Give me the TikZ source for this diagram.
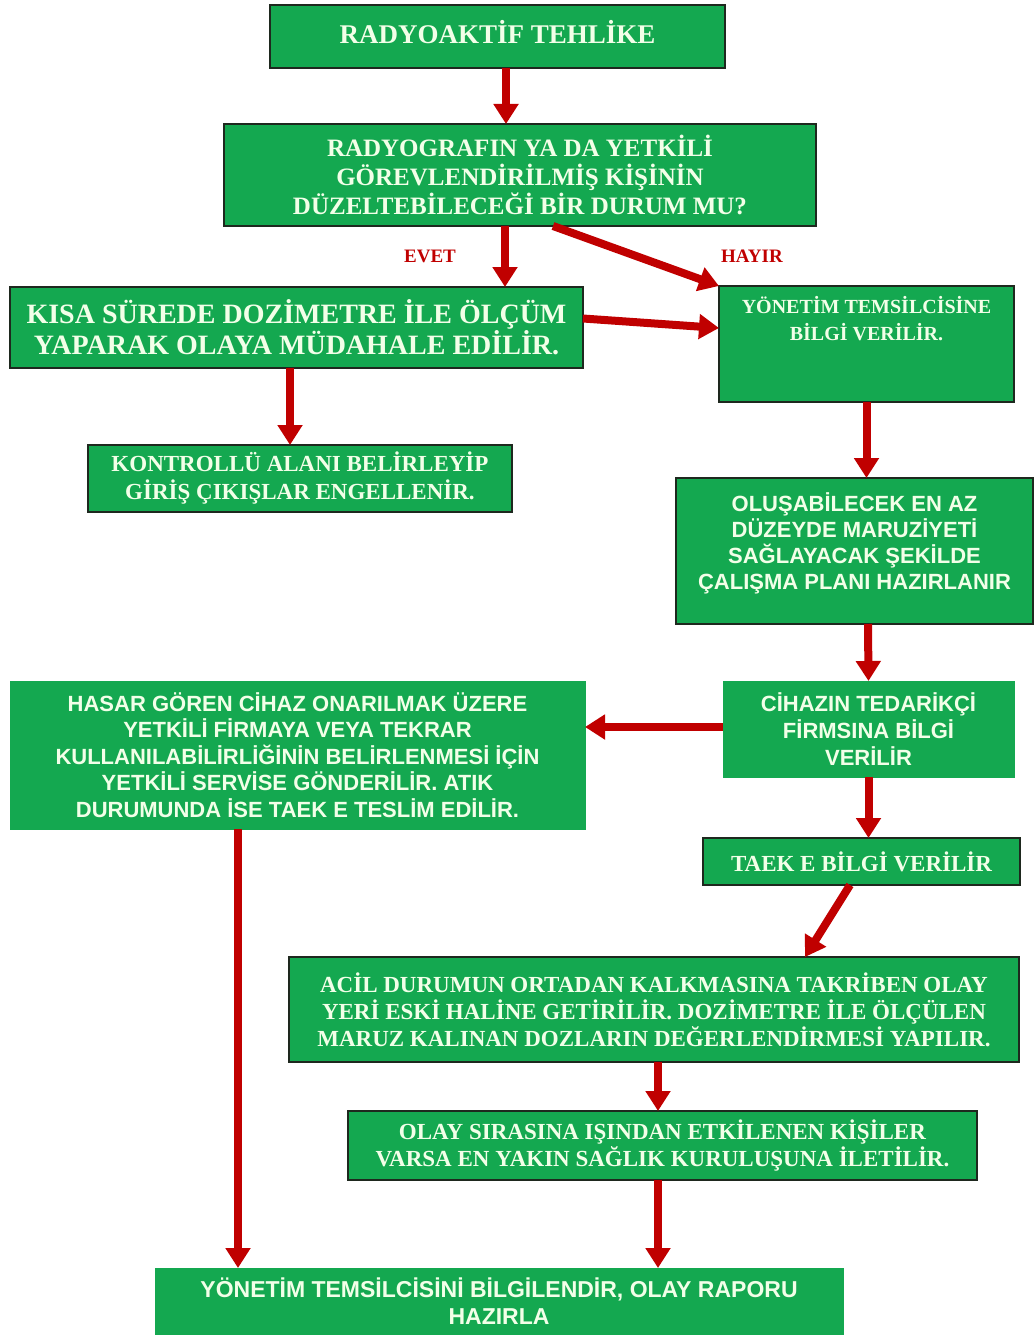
\documentclass[tikz,border=0pt]{standalone}
\usepackage{fontspec}
\setmainfont{Liberation Serif}
\newfontfamily\arialfont{Liberation Sans}
\usetikzlibrary{arrows.meta}
\definecolor{boxgreen}{RGB}{20,168,80}
\definecolor{arrowred}{RGB}{192,0,0}
\definecolor{boxtext}{RGB}{242,255,232}
\definecolor{boxline}{RGB}{30,40,30}

\begin{document}
\begin{tikzpicture}[x=1pt,y=-1pt]
      \tikzset{box/.style={fill=boxgreen, text=boxtext, align=center, inner sep=0pt, outer sep=0pt},
               framed/.style={box, draw=boxline, line width=1.5pt},
               plain/.style={box, draw=boxgreen, line width=1pt},
               flow/.style={draw=arrowred, line width=8pt, -{Triangle[width=24pt,length=20pt]}},
               answer/.style={text=arrowred, font=\bfseries\fontsize{19}{21}\selectfont}}
      \useasboundingbox (0,0) rectangle (1035,1335);
%% Boxes
      	\node[framed, minimum width=455pt, minimum height=63pt, font=\bfseries\fontsize{27}{31}\selectfont] (hazard) at (497.5,36.5) {RADYOAKTİF TEHLİKE\\[-21pt]\mbox{}};
      	\node[framed, minimum width=592pt, minimum height=102pt, font=\bfseries\fontsize{25}{29}\selectfont] (question) at (520,175) {RADYOGRAFIN YA DA YETKİLİ\\GÖREVLENDİRİLMİŞ KİŞİNİN\\DÜZELTEBİLECEĞİ BİR DURUM MU?};
      	\node[framed, minimum width=573pt, minimum height=81pt, font=\bfseries\fontsize{28}{31}\selectfont] (measure) at (296.5,327.5) {KISA SÜREDE DOZİMETRE İLE ÖLÇÜM\\YAPARAK OLAYA MÜDAHALE EDİLİR.};
      	\node[framed, minimum width=295pt, minimum height=116pt, font=\bfseries\fontsize{20}{27}\selectfont] (inform) at (866.5,344) {YÖNETİM TEMSİLCİSİNE\\BİLGİ VERİLİR.\\[25pt]\mbox{}};
      	\node[framed, minimum width=424pt, minimum height=67pt, font=\bfseries\fontsize{23}{28}\selectfont] (control) at (300,478.5) {KONTROLLÜ ALANI BELİRLEYİP\\GİRİŞ ÇIKIŞLAR ENGELLENİR.};
      	\node[framed, minimum width=357pt, minimum height=146pt, font=\arialfont\bfseries\fontsize{22}{26}\selectfont] (plan) at (854.5,551) {OLUŞABİLECEK EN AZ\\DÜZEYDE MARUZİYETİ\\SAĞLAYACAK ŞEKİLDE\\ÇALIŞMA PLANI HAZIRLANIR\\[-6pt]\mbox{}};
      	\node[plain, minimum width=575pt, minimum height=148pt, font=\arialfont\bfseries\fontsize{22}{26.5}\selectfont] (repair) at (297.5,755) {HASAR GÖREN CİHAZ ONARILMAK ÜZERE\\YETKİLİ FİRMAYA VEYA TEKRAR\\KULLANILABİLİRLİĞİNİN BELİRLENMESİ İÇİN\\YETKİLİ SERVİSE GÖNDERİLİR. ATIK\\DURUMUNDA İSE TAEK E TESLİM EDİLİR.};
      	\node[plain, minimum width=291pt, minimum height=96pt, font=\arialfont\bfseries\fontsize{22}{27}\selectfont] (supplier) at (868.5,729) {CİHAZIN TEDARİKÇİ\\FİRMSINA BİLGİ\\VERİLİR};
      	\node[framed, minimum width=317pt, minimum height=47pt, font=\bfseries\fontsize{23}{27}\selectfont] (taek) at (861.5,861.5) {TAEK E BİLGİ VERİLİR};
      	\node[framed, minimum width=730pt, minimum height=105pt, font=\bfseries\fontsize{23}{27}\selectfont] (restore) at (654,1009.5) {ACİL DURUMUN ORTADAN KALKMASINA TAKRİBEN OLAY\\YERİ ESKİ HALİNE GETİRİLİR. DOZİMETRE İLE ÖLÇÜLEN\\MARUZ KALINAN DOZLARIN DEĞERLENDİRMESİ YAPILIR.};
      	\node[framed, minimum width=629pt, minimum height=69pt, font=\bfseries\fontsize{23}{27}\selectfont] (hospital) at (662.5,1145.5) {OLAY SIRASINA IŞINDAN ETKİLENEN KİŞİLER\\VARSA EN YAKIN SAĞLIK KURULUŞUNA İLETİLİR.};
      	\node[plain, minimum width=688pt, minimum height=67pt, font=\arialfont\bfseries\fontsize{23}{27}\selectfont] (report) at (499,1301.5) {YÖNETİM TEMSİLCİSİNİ BİLGİLENDİR, OLAY RAPORU\\HAZIRLA};
%% Answers
      	\node[answer] (yes) at (430,256) {EVET};
      	\node[answer] (no) at (752,256) {HAYIR};
%Arrows
		\path ([xshift=8.5pt]hazard.south) edge[flow] ([xshift=-14pt]question.north);
		\path ([xshift=-15pt]question.south) edge[flow] ([xshift=208.5pt]measure.north);
		\path ([xshift=33pt]question.south) edge[flow] (inform.north west);
		\path ([yshift=9pt]measure.east) edge[flow] ([yshift=16pt]inform.west);
		\path ([xshift=-6.5pt]measure.south) edge[flow] ([xshift=-10pt]control.north);
		\path (inform.south) edge[flow] ([xshift=12pt]plan.north);
		\path ([xshift=13.5pt]plan.south) edge[flow] (supplier.north);
		\path ([yshift=2pt]supplier.west) edge[flow] ([yshift=28pt]repair.east);
		\path (supplier.south) edge[flow] ([xshift=7pt]taek.north);
		\path ([xshift=-11.5pt]taek.south) edge[flow] ([xshift=151pt]restore.north);
		\path ([xshift=4pt]restore.south) edge[flow] ([xshift=-4.5pt]hospital.north);
		\path ([xshift=-4.5pt]hospital.south) edge[flow] ([xshift=159pt]report.north);
		\path ([xshift=-59.5pt]repair.south) edge[flow] ([xshift=-261pt]report.north);
	\end{tikzpicture}
\end{document}
